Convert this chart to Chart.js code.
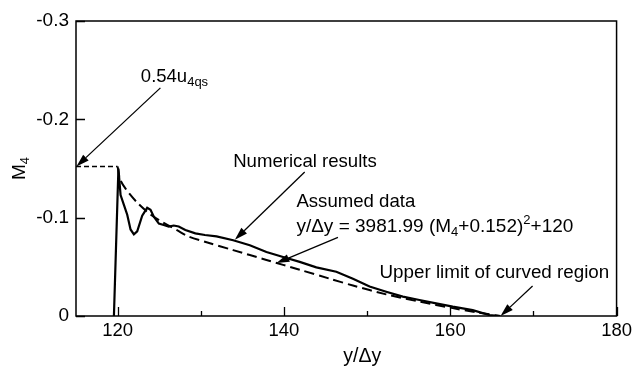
<!DOCTYPE html>
<html>
<head>
<meta charset="utf-8">
<script src="https://cdn.jsdelivr.net/npm/chart.js@4/dist/chart.umd.min.js"></script>
<style>
  html, body { margin: 0; padding: 0; background: #fff; }
  #wrap { width: 636px; height: 367px; }
</style>
</head>
<body>
<div id="wrap"><canvas id="c" width="636" height="367"></canvas></div>
<script>
// Numerical results: M4 along y/Δy
const numericalX = [119.56, 120.1, 120.36, 120.76, 121.16, 121.56, 121.96, 122.36, 122.96, 123.56, 123.96,
  124.36, 124.96, 125.55, 126.15, 126.75, 127.35, 128.15, 129.35, 130.5, 131.9, 133.9, 135.9, 137.9,
  139.9, 141.9, 143.9, 146.3, 148.3, 150.3, 152.3, 154.3, 156.3, 158.3, 160.3, 162.7, 164.7, 166.0];
const numericalM = [0, -0.150, -0.123, -0.113, -0.103, -0.088, -0.083, -0.086, -0.102, -0.110, -0.108,
  -0.101, -0.094, -0.0925, -0.091, -0.092, -0.091, -0.0875, -0.084, -0.0824, -0.081, -0.077, -0.072, -0.065,
  -0.060, -0.055, -0.0495, -0.045, -0.038, -0.030, -0.0247, -0.0197, -0.0163, -0.0129, -0.0095, -0.006, -0.001, 0];

// Assumed data curve
const assumedX = [120.0, 120.3, 121.0, 122.4, 124.0, 125.5, 127.2, 128.5, 130.7, 133.9, 137.9, 141.9,
  145.5, 148.3, 152.3, 156.3, 160.3, 163.0, 166.0];
const assumedM = [-0.152, -0.139, -0.129, -0.115, -0.103, -0.095, -0.087, -0.081, -0.075, -0.067, -0.057, -0.047,
  -0.038, -0.031, -0.022, -0.0146, -0.0080, -0.004, 0];

// 0.54 u4qs level
const levelX = [115, 120];
const levelM = [-0.152, -0.152];

// Axis ticks
const xTicks = [120, 140, 160, 180];
const xMinorTicks = [130, 150, 170];
const yTicks = [0, -0.1, -0.2, -0.3];
const yTickLabels = ['0', '-0.1', '-0.2', '-0.3'];

const FONT = "'Liberation Sans', Arial, Helvetica, sans-serif";
const toPts = (xs, ys) => xs.map((x, i) => ({ x: x, y: ys[i] }));

// Callouts, placed in data units
const callouts = [
  { size: 18.5, segs: [['0.54u'], ['4qs', 'sub']], at: [122.8, -0.238], from: [125.15, -0.232], to: [115.05, -0.152] },
  { size: 18.6, segs: [['Numerical results']], at: [133.9, -0.152], from: [142.5, -0.1465], to: [134.1, -0.0775] },
  { size: 18.6, segs: [['Assumed data']], at: [141.5, -0.111] },
  { size: 19, segs: [['y/\u0394y = 3981.99 (M'], ['4', 'sub'], ['+0.152)'], ['2', 'sup'], ['+120']], at: [141.5, -0.0858],
    from: [146.5, -0.080], to: [139.1, -0.0538] },
  { size: 18.8, segs: [['Upper limit of curved region']], at: [151.5, -0.0387], from: [169.9, -0.0305], to: [166.05, 0] }
];

function drawRich(ctx, x, y, segs, size) {
  let cx = x;
  segs.forEach(([t, kind]) => {
    let fs = size, dy = 0;
    if (kind === 'sub') { fs = Math.round(size * 0.68); dy = size * 0.22; }
    if (kind === 'sup') { fs = Math.round(size * 0.68); dy = -size * 0.42; }
    ctx.font = fs + 'px ' + FONT;
    ctx.fillText(t, cx, y + dy);
    cx += ctx.measureText(t).width;
  });
  return cx - x;
}

function richWidth(ctx, segs, size) {
  let w = 0;
  segs.forEach(([t, kind]) => {
    const fs = kind ? Math.round(size * 0.68) : size;
    ctx.font = fs + 'px ' + FONT;
    w += ctx.measureText(t).width;
  });
  return w;
}

function arrow(ctx, x1, y1, x2, y2) {
  const ang = Math.atan2(y2 - y1, x2 - x1);
  const len = 13, hw = 4;
  const bx = x2 - len * Math.cos(ang), by = y2 - len * Math.sin(ang);
  ctx.beginPath();
  ctx.moveTo(x1, y1);
  ctx.lineTo(bx, by);
  ctx.lineWidth = 1.3;
  ctx.stroke();
  ctx.beginPath();
  ctx.moveTo(x2, y2);
  ctx.lineTo(bx + hw * Math.sin(ang), by - hw * Math.cos(ang));
  ctx.lineTo(bx - hw * Math.sin(ang), by + hw * Math.cos(ang));
  ctx.closePath();
  ctx.fill();
}

const decorations = {
  id: 'decorations',
  afterDraw(chart) {
    const ctx = chart.ctx;
    const a = chart.chartArea;
    const xs = chart.scales.x, ys = chart.scales.y;
    ctx.save();
    ctx.strokeStyle = '#000';
    ctx.fillStyle = '#000';

    // frame
    ctx.lineWidth = 1.5;
    ctx.strokeRect(a.left, a.top, a.right - a.left, a.bottom - a.top);

    // inward tick marks
    ctx.lineWidth = 1.3;
    ctx.beginPath();
    xTicks.forEach(v => {
      const px = Math.round(xs.getPixelForValue(v)) + 0.5;
      ctx.moveTo(px, a.bottom); ctx.lineTo(px, a.bottom - 9);
    });
    xMinorTicks.forEach(v => {
      const px = Math.round(xs.getPixelForValue(v)) + 0.5;
      ctx.moveTo(px, a.bottom); ctx.lineTo(px, a.bottom - 5);
    });
    yTicks.forEach(v => {
      const py = Math.round(ys.getPixelForValue(v)) + 0.5;
      ctx.moveTo(a.left, py); ctx.lineTo(a.left + 9, py);
    });
    ctx.stroke();

    // axis titles
    ctx.textBaseline = 'alphabetic';
    ctx.textAlign = 'left';
    const xt = [['y/\u0394y']];
    const xw = richWidth(ctx, xt, 19.5);
    drawRich(ctx, (a.left + a.right) / 2 + 16 - xw / 2, 362, xt, 19.5);

    const yt = [['M'], ['4', 'sub']];
    const yw = richWidth(ctx, yt, 19);
    ctx.save();
    ctx.translate(25, (a.top + a.bottom) / 2 + yw / 2);
    ctx.rotate(-Math.PI / 2);
    drawRich(ctx, 0, 0, yt, 19);
    ctx.restore();

    // callouts
    callouts.forEach(c => {
      drawRich(ctx, xs.getPixelForValue(c.at[0]), ys.getPixelForValue(c.at[1]), c.segs, c.size);
      if (c.from) {
        arrow(ctx, xs.getPixelForValue(c.from[0]), ys.getPixelForValue(c.from[1]),
                   xs.getPixelForValue(c.to[0]), ys.getPixelForValue(c.to[1]));
      }
    });
    ctx.restore();
  }
};

new Chart(document.getElementById('c'), {
  type: 'scatter',
  data: {
    datasets: [
      { label: 'Numerical results', data: toPts(numericalX, numericalM), showLine: true,
        borderColor: '#000', borderWidth: 2.2, pointRadius: 0, tension: 0 },
      { label: 'Assumed data', data: toPts(assumedX, assumedM), showLine: true,
        borderColor: '#000', borderWidth: 2, borderDash: [10, 5], pointRadius: 0, tension: 0.3 },
      { label: '0.54u4qs', data: toPts(levelX, levelM), showLine: true,
        borderColor: '#000', borderWidth: 1.5, borderDash: [5, 3], pointRadius: 0 }
    ]
  },
  options: {
    responsive: false,
    animation: false,
    devicePixelRatio: 1,
    layout: { padding: { top: 21, right: 18, left: 0, bottom: 0 } },
    plugins: { legend: { display: false }, tooltip: { enabled: false } },
    scales: {
      x: {
        type: 'linear', min: 115, max: 180, position: 'bottom',
        grid: { display: false, drawTicks: false },
        border: { display: false },
        ticks: { color: '#000', font: { family: FONT, size: 18.5 }, padding: 4, maxRotation: 0 },
        afterBuildTicks: s => { s.ticks = xTicks.map(v => ({ value: v })); },
        afterFit: s => { s.height = 51; }
      },
      y: {
        type: 'linear', min: -0.3, max: 0, reverse: true,
        grid: { display: false, drawTicks: false },
        border: { display: false },
        ticks: { color: '#000', font: { family: FONT, size: 19 }, padding: 7,
                 callback: v => yTickLabels[yTicks.indexOf(v)] },
        afterBuildTicks: s => { s.ticks = yTicks.map(v => ({ value: v })); },
        afterFit: s => { s.width = 76; }
      }
    }
  },
  plugins: [decorations]
});
</script>
</body>
</html>
